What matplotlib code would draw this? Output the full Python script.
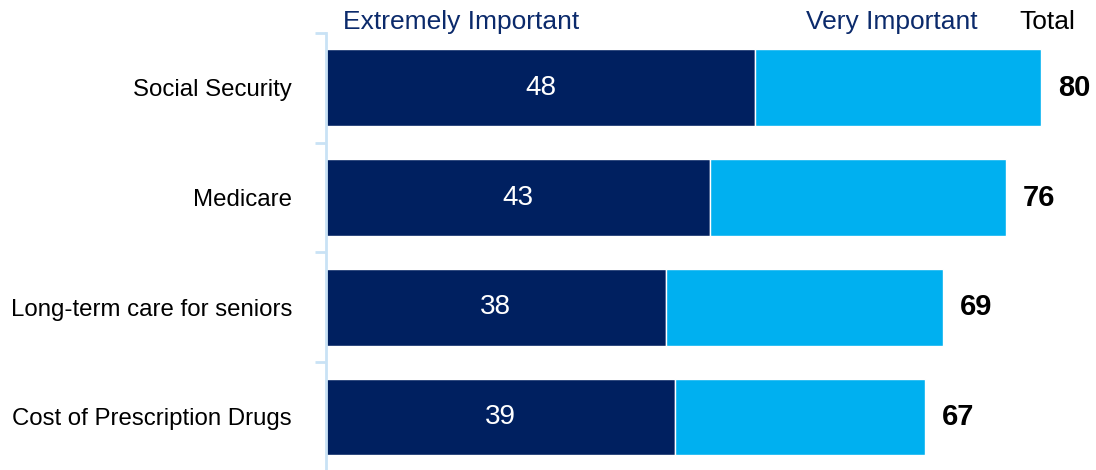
import matplotlib
matplotlib.use('Agg')
import matplotlib.pyplot as plt
import numpy as np

plt.rcParams['font.family'] = ['Liberation Sans', 'DejaVu Sans']

categories = ['Social Security', 'Medicare', 'Long-term care for seniors', 'Cost of Prescription Drugs']
extremely = [48, 43, 38, 39]
very = [32, 33, 31, 28]
totals = [80, 76, 69, 67]

navy = '#002060'
light = '#00B0F0'
axis_blue = '#C9E2F5'

fig = plt.figure(figsize=(10.96, 4.70), dpi=100)
ax = fig.add_axes([326 / 1096, -1.8 / 470, 760 / 1096, 438.8 / 470])

y = np.arange(len(categories))
ax.barh(y, extremely, height=0.70, color=navy, edgecolor='white', linewidth=1)
ax.barh(y, very, left=extremely, height=0.70, color=light, edgecolor='white', linewidth=1)

for i in range(len(categories)):
    ax.text(extremely[i] / 2, y[i], str(extremely[i]), color='white', fontsize=20,
            ha='center', va='center')
    ax.text(totals[i] + 1.9, y[i], str(totals[i]), color='black', fontsize=21,
            fontweight='bold', ha='left', va='center', clip_on=False)

ax.set_xlim(0, 85)
ax.set_ylim(len(categories) - 0.5, -0.5)
ax.set_yticks(y)
ax.set_yticklabels(categories, fontsize=17.3)
ax.tick_params(axis='y', which='major', length=0, pad=24.5)
ax.set_yticks(np.arange(-0.5, len(categories), 1.0), minor=True)
ax.tick_params(axis='y', which='minor', length=8, width=2, color=axis_blue, direction='out')
ax.set_xticks([])

for side in ['top', 'right', 'bottom']:
    ax.spines[side].set_visible(False)
ax.spines['left'].set_color(axis_blue)
ax.spines['left'].set_linewidth(2)

fig.text(343 / 1096, 1 - 22 / 470, 'Extremely Important', color='#0B2A6B', fontsize=19,
         ha='left', va='center')
fig.text(978 / 1096, 1 - 22 / 470, 'Very Important', color='#0B2A6B', fontsize=19,
         ha='right', va='center')
fig.text(1075 / 1096, 1 - 22 / 470, 'Total', color='black', fontsize=19,
         ha='right', va='center')

fig.savefig('out.png', dpi=100)
